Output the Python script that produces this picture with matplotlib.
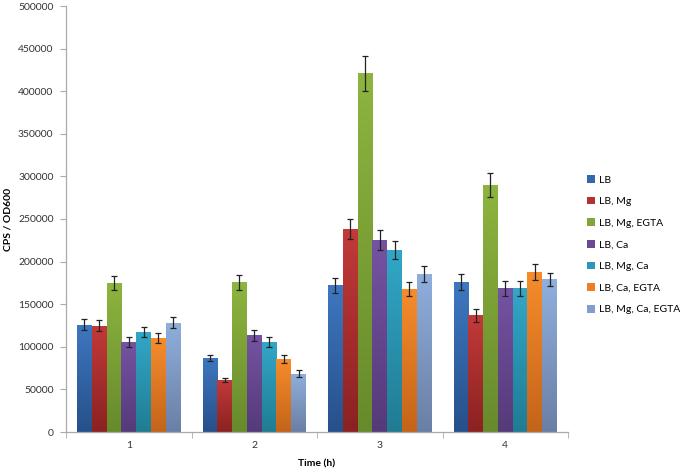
import matplotlib
matplotlib.use("Agg")
import matplotlib.pyplot as plt
import numpy as np
from matplotlib.colors import LinearSegmentedColormap
from matplotlib.patches import Patch

plt.rcParams['font.family'] = ['Lato', 'DejaVu Sans']

categories = ["1", "2", "3", "4"]
series = ["LB", "LB, Mg", "LB, Mg, EGTA", "LB, Ca", "LB, Mg, Ca", "LB, Ca, EGTA", "LB, Mg, Ca, EGTA"]
values = [
    [126000, 87000, 172000, 176000],
    [125000, 61000, 238000, 137000],
    [175000, 175500, 421000, 290000],
    [106000, 113500, 225000, 168500],
    [117000, 106000, 214000, 168500],
    [110000, 85500, 168000, 188000],
    [128500, 68500, 185500, 179000],
]
errors = [
    [6300, 3900, 9000, 9000],
    [6700, 2700, 12000, 7400],
    [8600, 8600, 20800, 14500],
    [5900, 6300, 11700, 9000],
    [5900, 5900, 10600, 9000],
    [5900, 5100, 8200, 9400],
    [5900, 3900, 9400, 8200],
]
top_colors = ["#3E77C0", "#C23A39", "#8DB53F", "#7553A2", "#32A7C8", "#F68C2C", "#90AFDD"]
bot_colors = ["#26508A", "#8A2221", "#678A2C", "#553A79", "#207C93", "#C4641A", "#6A7FA5"]
legend_colors = ["#3567AE", "#B03231", "#80A63A", "#6A4A93", "#2B98B6", "#EA7F26", "#829FCB"]

fig = plt.figure(figsize=(6.8, 4.74), dpi=100)
ax = fig.add_axes([66/680, 42/474, (568-66)/680, (432-6)/474])

n = len(series)
x = np.arange(len(categories))
width = 1.0 / (n + 1.5)
grad = np.linspace(1, 0, 256).reshape(-1, 1)

for i in range(n):
    offs = x + (i - (n - 1) / 2) * width
    bars = ax.bar(offs, values[i], width, color=legend_colors[i], edgecolor='none', zorder=2)
    cmap = LinearSegmentedColormap.from_list("g%d" % i, [bot_colors[i], top_colors[i]])
    for b in bars:
        x0, y0 = b.get_x(), b.get_y()
        w, h = b.get_width(), b.get_height()
        im = ax.imshow(grad, cmap=cmap, aspect='auto', extent=[x0, x0 + w, y0, y0 + h],
                       origin='upper', zorder=2.5, interpolation='bilinear')
        im.set_clip_path(b)
    ax.errorbar(offs, values[i], yerr=errors[i], fmt='none', ecolor='#222222',
                elinewidth=0.9, capsize=2.3, capthick=0.9, zorder=4)

ax.set_xlim(-0.5, len(categories) - 0.5)
ax.set_ylim(0, 500000)
ax.set_yticks(np.arange(0, 500001, 50000))
ax.set_yticklabels([str(v) for v in range(0, 500001, 50000)], fontsize=7.5, color='#333333')
ax.set_xticks(x)
ax.set_xticklabels(categories, fontsize=7.5, color='#333333')
ax.set_xticks(np.arange(-0.5, len(categories) + 0.5, 1), minor=True)
ax.tick_params(axis='x', which='major', length=0, pad=6.5)
ax.tick_params(axis='x', which='minor', length=4, color='#AAAAAA')
ax.tick_params(axis='y', length=4, color='#AAAAAA', pad=5)
for s in ['top', 'right']:
    ax.spines[s].set_visible(False)
for s in ['left', 'bottom']:
    ax.spines[s].set_color('#AAAAAA')
    ax.spines[s].set_linewidth(0.9)

ax.set_xlabel("Time (h)", fontsize=7.5, fontweight='bold')
ax.xaxis.set_label_coords(0.5, -(464 - 432) / 426, transform=ax.transAxes)
ax.xaxis.label.set_verticalalignment('center')
ax.set_ylabel("CPS / OD600", fontsize=7.5, fontweight='bold')
ax.yaxis.set_label_coords(-(66 - 8) / 502, (432 - 219) / 426, transform=ax.transAxes)
ax.yaxis.label.set_verticalalignment('center')

handles = [Patch(facecolor=c, edgecolor='none') for c in legend_colors]
leg = fig.legend(handles, series, loc='upper left', bbox_to_anchor=(583/680, 1 - 171/474),
                 frameon=False, fontsize=7.5, handlelength=0.75, handleheight=0.75,
                 handletextpad=0.4, labelspacing=1.17, borderaxespad=0)

fig.savefig("out.png", dpi=100)
